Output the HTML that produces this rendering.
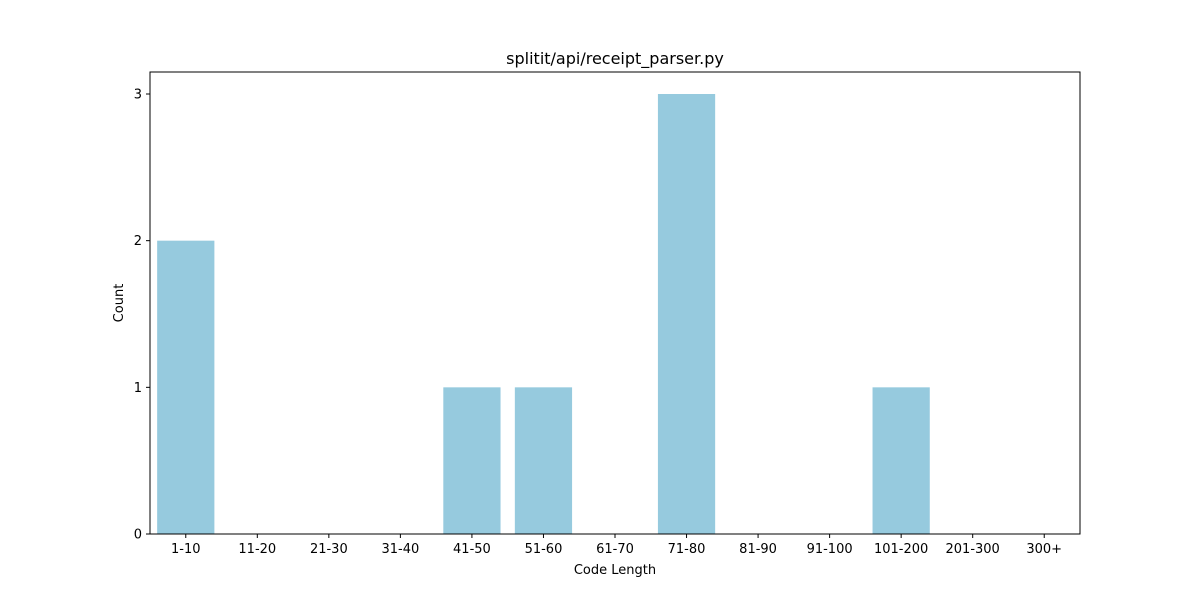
<!DOCTYPE html>
<html><head><meta charset="utf-8"><style>
body{margin:0;background:#fff}
text{font-family:"DejaVu Sans","Liberation Sans",sans-serif;fill:#000}
</style></head><body>
<svg id="chart" width="1200" height="600" xmlns="http://www.w3.org/2000/svg">
<rect width="1200" height="600" fill="#fff"/>
<text x="615" y="64" font-size="16" text-anchor="middle">splitit/api/receipt_parser.py</text>
<g id="bars"></g>
<g id="axes"></g>
<rect x="150" y="72" width="930" height="462" fill="none" stroke="#000" stroke-width="1"/>
<text x="615" y="574" font-size="13" text-anchor="middle">Code Length</text>
<text x="123" y="303" font-size="13" text-anchor="middle" transform="rotate(-90 123 303)">Count</text>
</svg>
<script>
const categories=["1-10","11-20","21-30","31-40","41-50","51-60","61-70","71-80","81-90","91-100","101-200","201-300","300+"];
const counts=[2,0,0,0,1,1,0,3,0,0,1,0,0];
const yTicks=[0,1,2,3];
const L=150,R=1080,T=72,B=534,yMax=3.15;
const NS="http://www.w3.org/2000/svg";
const step=(R-L)/categories.length;
const xC=i=>L+step*(i+0.5);
const yS=v=>B-(v/yMax)*(B-T);
const bars=document.getElementById('bars'),axes=document.getElementById('axes');
function mk(t,a,p){const e=document.createElementNS(NS,t);for(const k in a)e.setAttribute(k,a[k]);p.appendChild(e);return e;}
categories.forEach((c,i)=>{
  const w=step*0.8;
  const r=mk('rect',{x:xC(i)-w/2,y:yS(counts[i]),width:w,height:B-yS(counts[i]),fill:'#96cade'},bars);
  
  
  const tk=mk('line',{x1:xC(i),x2:xC(i),y1:B,y2:B+4,stroke:'#000'},axes);
  
  
  const t=mk('text',{x:xC(i),y:B+19,'font-size':13,'text-anchor':'middle'},axes);
  t.textContent=c;
  
  
});
yTicks.forEach(v=>{
  const tk=mk('line',{x1:L-4,x2:L,y1:yS(v),y2:yS(v),stroke:'#000'},axes);
  
  
  const t=mk('text',{x:L-8,y:yS(v)+4.5,'font-size':13,'text-anchor':'end'},axes);
  t.textContent=v;
  
  
});
</script>
</body></html>
